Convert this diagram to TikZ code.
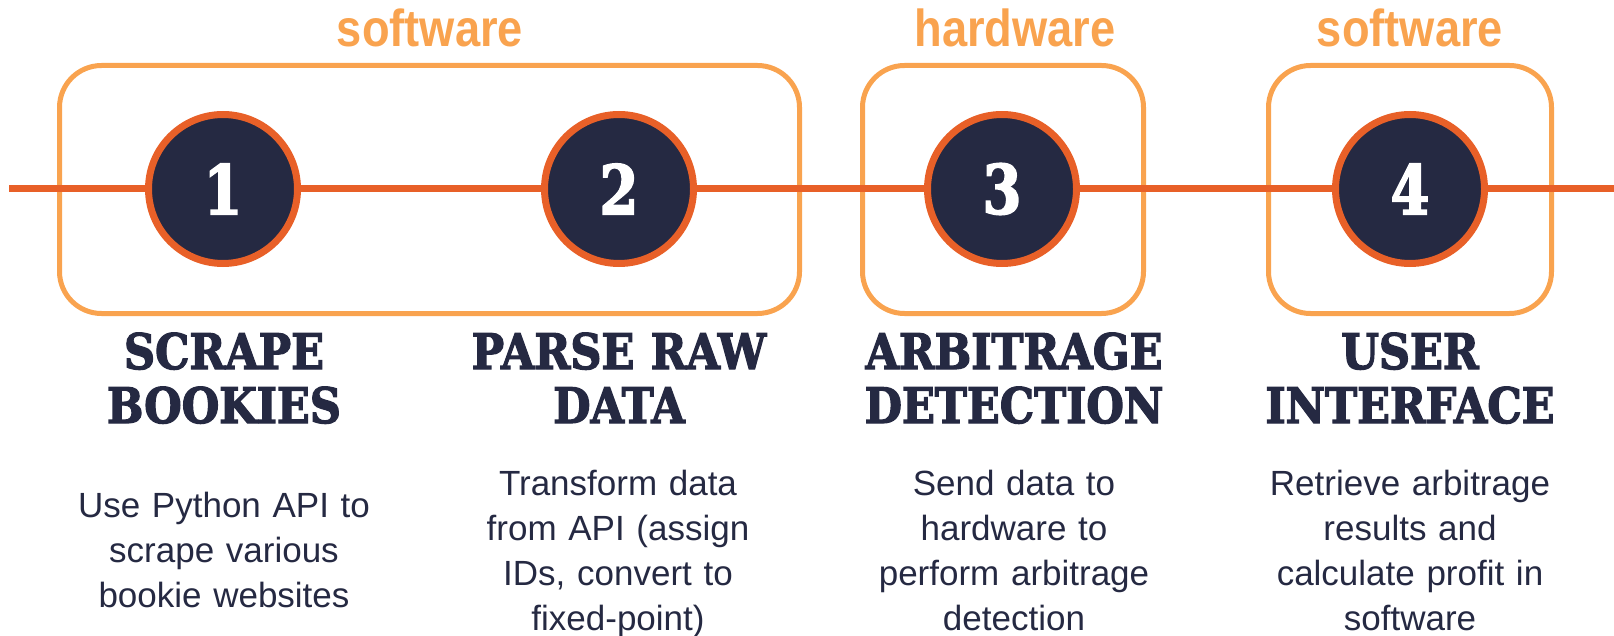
\documentclass[tikz,border=0pt]{standalone}
\usepackage{fontspec}
\setmainfont{Liberation Sans}
\newfontfamily\slabfont{DejaVu Serif}[FakeStretch=0.88, FakeBold=2.5]
\newfontfamily\numfont{DejaVu Serif}[FakeStretch=0.82, FakeBold=2.5]
\newfontfamily\labfont{Liberation Sans}[FakeStretch=0.87]
\definecolor{navy}{RGB}{37,41,66}
\definecolor{dorange}{RGB}{232,96,40}
\definecolor{lorange}{RGB}{249,163,79}
\tikzset{
  stepcirc/.style={circle, fill=navy, draw=dorange, line width=7pt, minimum size=149pt, inner sep=0pt, text=white, font=\numfont\bfseries\fontsize{68}{68}\selectfont},
  grpbox/.style={rectangle, draw=lorange, line width=5pt, rounded corners=42pt, inner sep=0pt},
  grplabel/.style={text=lorange, font=\labfont\bfseries\fontsize{52}{52}\selectfont, inner sep=0pt},
  headtxt/.style={text=navy, font=\slabfont\bfseries\fontsize{49}{54}\selectfont, align=center, text width=360pt, inner sep=0pt},
  desctxt/.style={text=navy, font=\fontsize{35}{45}\selectfont, align=center, text width=360pt, inner sep=0pt},
  mainline/.style={draw=dorange, line width=7pt}
}
\begin{document}
\begin{tikzpicture}[x=1pt,y=-1pt]
\useasboundingbox (0,0) rectangle (1614,636);
% group boxes
\node[grpbox, minimum width=740pt, minimum height=248pt] (g1) at (429.5,189.5) {};
\node[grpbox, minimum width=281pt, minimum height=248pt] (g2) at (1003,189.5) {};
\node[grpbox, minimum width=283pt, minimum height=248pt] (g3) at (1410,189.5) {};
% group labels
\node[grplabel, anchor=base] (l1) at (430,47) {software};
\node[grplabel, anchor=base] (l2) at (1015,47) {hardware};
\node[grplabel, anchor=base] (l3) at (1410,47) {software};
% steps
\node[stepcirc] (c1) at (223,189) {1};
\node[stepcirc] (c2) at (619,189) {2};
\node[stepcirc] (c3) at (1002,189) {3};
\node[stepcirc] (c4) at (1410,189) {4};
\coordinate (lstart) at (9,189);
\coordinate (lend) at (1614,189);
\draw[mainline] (lstart) -- (c1);
\draw[mainline] (c1) -- (c2);
\draw[mainline] (c2) -- (c3);
\draw[mainline] (c3) -- (c4);
\draw[mainline] (c4) -- (lend);
% headings
\node[headtxt, anchor=base] (h1) at (224,369) {SCRAPE\\BOOKIES};
\node[headtxt, anchor=base] (h2) at (619,369) {PARSE RAW\\DATA};
\node[headtxt, anchor=base] (h3) at (1014,369) {ARBITRAGE\\DETECTION};
\node[headtxt, anchor=base] (h4) at (1410,369) {USER\\INTERFACE};
% descriptions
\node[desctxt, anchor=base] (d1) at (224,517) {Use Python API to\\scrape various\\bookie websites};
\node[desctxt, anchor=base] (d2) at (618,495) {Transform data\\from API (assign\\IDs, convert to\\fixed-point)};
\node[desctxt, anchor=base] (d3) at (1014,495) {Send data to\\hardware to\\perform arbitrage\\detection};
\node[desctxt, anchor=base] (d4) at (1410,495) {Retrieve arbitrage\\results and\\calculate profit in\\software};
\end{tikzpicture}
\end{document}
